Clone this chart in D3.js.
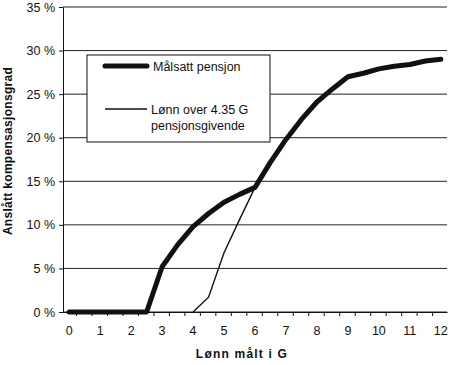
<!DOCTYPE html>
<html>
<head>
    <title>Kompensasjonsgrad</title>
    <script src="https://d3js.org/d3.v7.min.js"></script>
    <style>
        body { margin: 0; background: #fff; }
        text { font-family: "Liberation Sans", Arial, sans-serif; fill: #111; }
    </style>
</head>
<body>
    <div id="chart"></div>

    <script>
        // data (x in G, y in %)
        var lonnG = [0, 0.5, 1, 1.5, 2, 2.5, 3, 3.5, 4, 4.5, 5, 5.5, 6, 6.5, 7, 7.5, 8, 8.5, 9, 9.5, 10, 10.5, 11, 11.5, 12];
        var malsatt = [0, 0, 0, 0, 0, 0, 5.2, 7.7, 9.8, 11.3, 12.6, 13.5, 14.3, 17.2, 19.8, 22.1, 24.1, 25.6, 27.0, 27.4, 27.9, 28.2, 28.4, 28.8, 29.0];
        var lonnOver = [null, null, null, null, null, null, null, null, 0, 1.7, 6.8, 10.6, 14.3, 17.2, 19.8, 22.1, 24.1, 25.6, 27.0, 27.4, 27.9, 28.2, 28.4, 28.8, 29.0];
        var xLabels = [0, 1, 2, 3, 4, 5, 6, 7, 8, 9, 10, 11, 12];
        var yTicks = [0, 5, 10, 15, 20, 25, 30, 35];
        var seriesNames = ["Målsatt pensjon", "Lønn over 4.35 G", "pensjonsgivende"];

        var width = 450, height = 365;
        var plotLeft = 63, plotRight = 447, plotTop = 7, plotBottom = 312;

        var svg = d3.select("#chart")
                    .append("svg")
                    .attr("width", width)
                    .attr("height", height);

        var x = d3.scaleLinear()
                  .domain([-0.2, 12.2])
                  .range([plotLeft, plotRight]);

        var y = d3.scaleLinear()
                  .domain([0, 35])
                  .range([plotBottom, plotTop]);

        // gridlines
        svg.append("g")
           .selectAll("line")
           .data(yTicks)
           .enter()
           .append("line")
           .attr("x1", plotLeft)
           .attr("x2", plotRight)
           .attr("y1", function(d) { return y(d); })
           .attr("y2", function(d) { return y(d); })
           .attr("stroke", "#222")
           .attr("stroke-width", 1);

        // y axis
        var yAxis = d3.axisLeft(y)
                      .tickValues(yTicks)
                      .tickSize(4)
                      .tickSizeOuter(0)
                      .tickPadding(4)
                      .tickFormat(function(d) { return d + " %"; });

        var gy = svg.append("g")
           .attr("transform", "translate(" + plotLeft + ",0)")
           .call(yAxis);
        gy.select(".domain").attr("stroke", "#111");
        gy.selectAll("line").attr("stroke", "#111");
        gy.selectAll("text")
          .style("font-size", "12.5px")
          .style("font-family", "Liberation Sans, Arial, sans-serif")
          .attr("fill", "#111");

        // x axis: small ticks between labels
        var minorTicks = d3.range(0.22, 12.2, 0.5);
        var xAxis = d3.axisBottom(x)
                      .tickValues(minorTicks)
                      .tickSize(4)
                      .tickSizeOuter(0)
                      .tickFormat("");

        var gx = svg.append("g")
           .attr("transform", "translate(0," + plotBottom + ")")
           .call(xAxis);
        gx.select(".domain").attr("stroke", "#111");
        gx.selectAll("line").attr("stroke", "#111");

        svg.append("g")
           .selectAll("text")
           .data(xLabels)
           .enter()
           .append("text")
           .attr("x", function(d) { return x(d); })
           .attr("y", 335)
           .attr("text-anchor", "middle")
           .style("font-size", "12.5px")
           .text(function(d) { return d; });

        // axis titles
        svg.append("text")
           .attr("x", 242)
           .attr("y", 358)
           .attr("text-anchor", "middle")
           .style("font-size", "12px")
           .style("font-weight", "bold")
           .style("letter-spacing", "1.2px")
           .text("Lønn målt i G");

        svg.append("text")
           .attr("transform", "translate(12,151) rotate(-90)")
           .attr("text-anchor", "middle")
           .style("font-size", "12px")
           .style("font-weight", "bold")
           .style("letter-spacing", "0.3px")
           .text("Anslått kompensasjonsgrad");

        // lines
        var line = d3.line()
                     .defined(function(d) { return d[1] !== null; })
                     .x(function(d) { return x(d[0]); })
                     .y(function(d) { return y(d[1]); });

        svg.append("path")
           .datum(lonnG.map(function(g, i) { return [g, lonnOver[i]]; }))
           .attr("d", line)
           .attr("fill", "none")
           .attr("stroke", "#111")
           .attr("stroke-width", 1.4);

        svg.append("path")
           .datum(lonnG.map(function(g, i) { return [g, malsatt[i]]; }))
           .attr("d", line)
           .attr("fill", "none")
           .attr("stroke", "#111")
           .attr("stroke-width", 5)
           .attr("stroke-linejoin", "round")
           .attr("stroke-linecap", "round");

        // legend
        var legend = svg.append("g");
        legend.append("rect")
              .attr("x", 87)
              .attr("y", 55)
              .attr("width", 183)
              .attr("height", 87)
              .attr("fill", "#fff")
              .attr("stroke", "#111")
              .attr("stroke-width", 1);

        legend.append("line")
              .attr("x1", 105).attr("x2", 147)
              .attr("y1", 66).attr("y2", 66)
              .attr("stroke", "#111")
              .attr("stroke-width", 5)
              .attr("stroke-linecap", "round");

        legend.append("line")
              .attr("x1", 105).attr("x2", 147)
              .attr("y1", 109).attr("y2", 109)
              .attr("stroke", "#111")
              .attr("stroke-width", 1.4);

        legend.append("text")
              .attr("x", 153).attr("y", 71)
              .style("font-size", "12.5px")
              .text(seriesNames[0]);

        legend.append("text")
              .attr("x", 151).attr("y", 114)
              .style("font-size", "12.5px")
              .text(seriesNames[1]);

        legend.append("text")
              .attr("x", 151).attr("y", 130)
              .style("font-size", "12.5px")
              .text(seriesNames[2]);
    </script>
</body>
</html>
